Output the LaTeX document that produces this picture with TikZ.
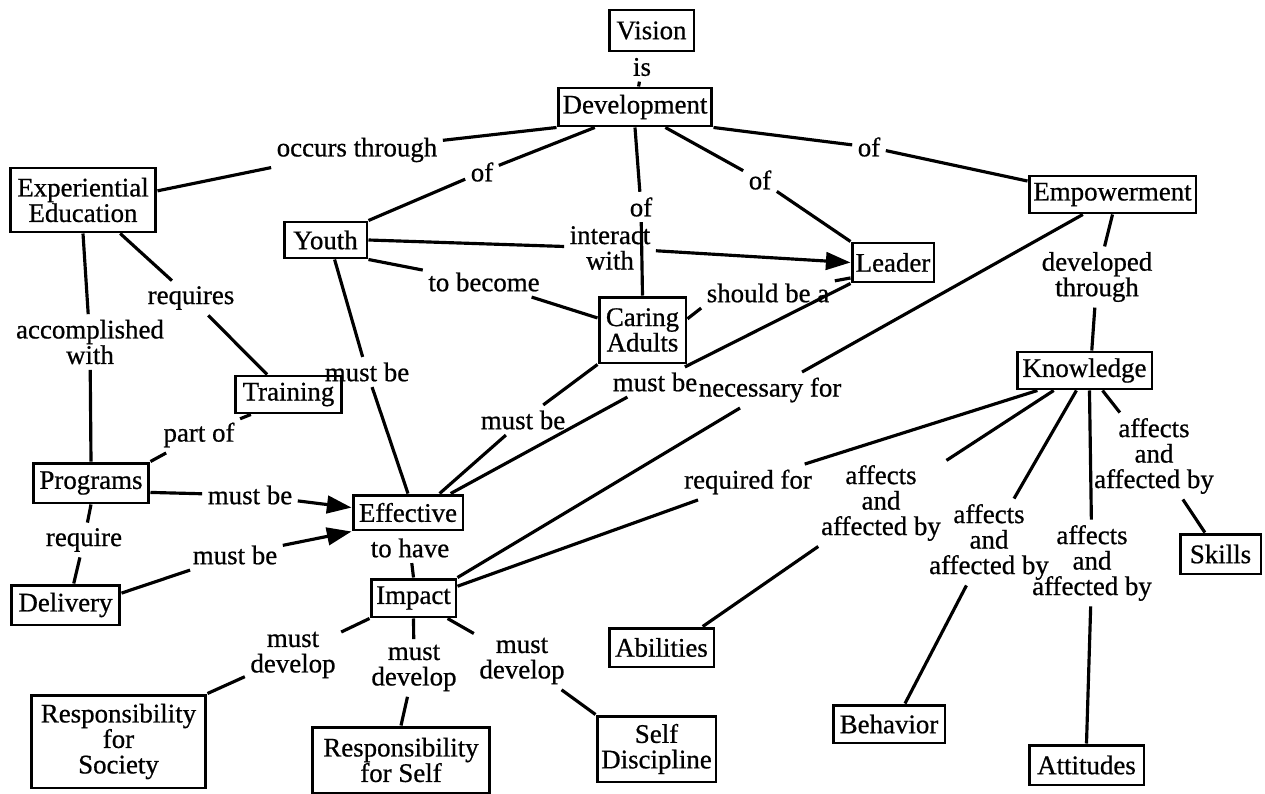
\documentclass[tikz,border=0pt]{standalone}
\usepackage{fontspec}
\setmainfont{Liberation Serif}
\newfontfamily\scanfont[FakeBold=0.7]{Liberation Serif}
\usetikzlibrary{arrows.meta}

\begin{document}
\begin{tikzpicture}[x=0.02cm, y=-0.02cm,
                        concept/.style={draw, line width=1.7pt, align=center, inner sep=2pt, font=\scanfont\fontsize{15.3}{14.5}\selectfont},
                        link/.style={align=center, inner sep=3pt, font=\scanfont\fontsize{15.3}{14.5}\selectfont},
                        every edge/.style={draw, line width=1.8pt},
                        arr/.style={-{Triangle[length=14pt, width=10pt]}}]
                        \useasboundingbox (0, 0) rectangle (1265, 794);
                        \node[concept, minimum width=1.70cm, minimum height=0.82cm] (vis) at (651.5, 30.5) {Vision};
                        \node[concept, minimum width=3.08cm, minimum height=0.76cm] (dev) at (635, 107) {Development};
                        \node[concept, minimum width=2.92cm, minimum height=1.28cm] (exp) at (83, 200) {Experiential\\Education};
                        \node[concept, minimum width=1.66cm, minimum height=0.72cm] (yth) at (325.5, 240) {Youth};
                        \node[concept, minimum width=3.34cm, minimum height=0.74cm] (emp) at (1112.5, 194.5) {Empowerment};
                        \node[concept, minimum width=1.64cm, minimum height=0.78cm] (ldr) at (893, 262.5) {Leader};
                        \node[concept, minimum width=1.74cm, minimum height=1.32cm] (car) at (642.5, 330) {Caring\\Adults};
                        \node[concept, minimum width=2.70cm, minimum height=0.74cm] (kno) at (1084.5, 370.5) {Knowledge};
                        \node[concept, minimum width=2.14cm, minimum height=0.74cm] (trn) at (288.5, 394.5) {Training};
                        \node[concept, minimum width=2.32cm, minimum height=0.80cm] (prg) at (91, 483) {Programs};
                        \node[concept, minimum width=2.20cm, minimum height=0.70cm] (eff) at (408, 512.5) {Effective};
                        \node[concept, minimum width=2.18cm, minimum height=0.80cm] (del) at (65.5, 605) {Delivery};
                        \node[concept, minimum width=1.70cm, minimum height=0.76cm] (imp) at (413.5, 598) {Impact};
                        \node[concept, minimum width=2.10cm, minimum height=0.78cm] (abl) at (661.5, 647.5) {Abilities};
                        \node[concept, minimum width=2.24cm, minimum height=0.76cm] (beh) at (889, 724) {Behavior};
                        \node[concept, minimum width=2.30cm, minimum height=0.80cm] (att) at (1086.5, 765) {Attitudes};
                        \node[concept, minimum width=1.62cm, minimum height=0.80cm] (skl) at (1220.5, 554) {Skills};
                        \node[concept, minimum width=3.50cm, minimum height=1.86cm] (rsoc) at (118.5, 741.5) {Responsibility\\for\\Society};
                        \node[concept, minimum width=3.56cm, minimum height=1.32cm] (rself) at (401, 760) {Responsibility\\for Self};
                        \node[concept, minimum width=2.38cm, minimum height=1.32cm] (sdis) at (656.5, 749) {Self\\Discipline};
                        \node[link] (is) at (642, 67) {is};
                        \node[link] (occ) at (357, 150) {occurs through};
                        \node[link] (of1) at (482, 172) {of};
                        \node[link] (of2) at (641, 207) {of};
                        \node[link] (int) at (610, 248) {interact\\with};
                        \node[link] (of3) at (760, 180) {of};
                        \node[link] (of4) at (869, 147) {of};
                        \node[link] (bec) at (484, 282) {to become};
                        \node[link] (shd) at (768, 293) {should be a};
                        \node[link] (req) at (191, 298) {requires};
                        \node[link] (acc) at (90, 342) {accomplished\\with};
                        \node[link] (dvt) at (1097, 277) {developed\\through};
                        \node[link] (mby) at (367, 372) {must be};
                        \node[link] (mbl) at (655, 382) {must be};
                        \node[link] (nec) at (770, 390) {necessary for};
                        \node[link] (mbc) at (523, 420) {must be};
                        \node[link] (prt) at (199, 435) {part of};
                        \node[link] (rqf) at (748, 482) {required for};
                        \node[link] (af1) at (881, 503) {affects\\and\\affected by};
                        \node[link] (af2) at (989, 542) {affects\\and\\affected by};
                        \node[link] (af3) at (1092, 563) {affects\\and\\affected by};
                        \node[link] (af4) at (1154, 456) {affects\\and\\affected by};
                        \node[link] (mbp) at (250, 495) {must be};
                        \node[link] (rqr) at (84, 540) {require};
                        \node[link] (mbd) at (235, 555) {must be};
                        \node[link] (hav) at (410, 548) {to have};
                        \node[link] (mds) at (293, 655) {must\\develop};
                        \node[link] (mdf) at (414, 668) {must\\develop};
                        \node[link] (mdd) at (522, 661) {must\\develop};
                        \draw
                        (is) edge (dev)
                        (dev.south west) edge (occ)
                        (occ) edge (exp.7)
                        (dev.207) edge (of1)
                        (of1) edge (yth.north east)
                        (dev.south) edge (of2)
                        (of2) edge (car.north)
                        (dev.-34) edge (of3)
                        (of3) edge (ldr.north west)
                        (dev.south east) edge (of4)
                        (of4) edge (emp.171)
                        (yth.east) edge (int)
                        (int) edge[arr] (ldr.west)
                        (yth.south east) edge (bec)
                        (bec) edge (car.165)
                        (car.14) edge (shd.south west)
                        (shd) edge (ldr.200)
                        (ldr.south west) edge (mbl)
                        (mbl) edge (eff.24)
                        (car.south west) edge (mbc)
                        (mbc) edge (eff.31)
                        (yth.-65) edge (mby)
                        (mby) edge (eff.north)
                        (emp.214) edge (nec)
                        (nec) edge (imp.north east)
                        (emp.south) edge (dvt)
                        (dvt) edge (kno.70)
                        (kno.203) edge (rqf)
                        (rqf) edge (imp.15)
                        (kno.213) edge (af1)
                        (af1) edge (abl.27)
                        (kno.248) edge (af2)
                        (af2) edge (beh.52)
                        (kno.-76) edge (af3)
                        (af3) edge (att.north)
                        (kno.-48) edge (af4)
                        (af4) edge (skl.126)
                        (exp.south) edge (acc)
                        (acc) edge (prg.north)
                        (exp.-42) edge (req)
                        (req) edge (trn.137)
                        (trn.208) edge (prt)
                        (prt) edge (prg.north east)
                        (prg.-9) edge (mbp)
                        (mbp) edge[arr] (eff.175)
                        (prg.south) edge (rqr)
                        (rqr) edge (del.69)
                        (del.12) edge (mbd)
                        (mbd) edge[arr] (eff.south west)
                        (hav) edge (imp.north)
                        (imp.south west) edge (mds)
                        (mds) edge (rsoc.north east)
                        (imp.south) edge (mdf)
                        (mdf) edge (rself.north)
                        (imp.-31) edge (mdd)
                        (mdd) edge (sdis.north west);
                    \end{tikzpicture}
\end{document}
